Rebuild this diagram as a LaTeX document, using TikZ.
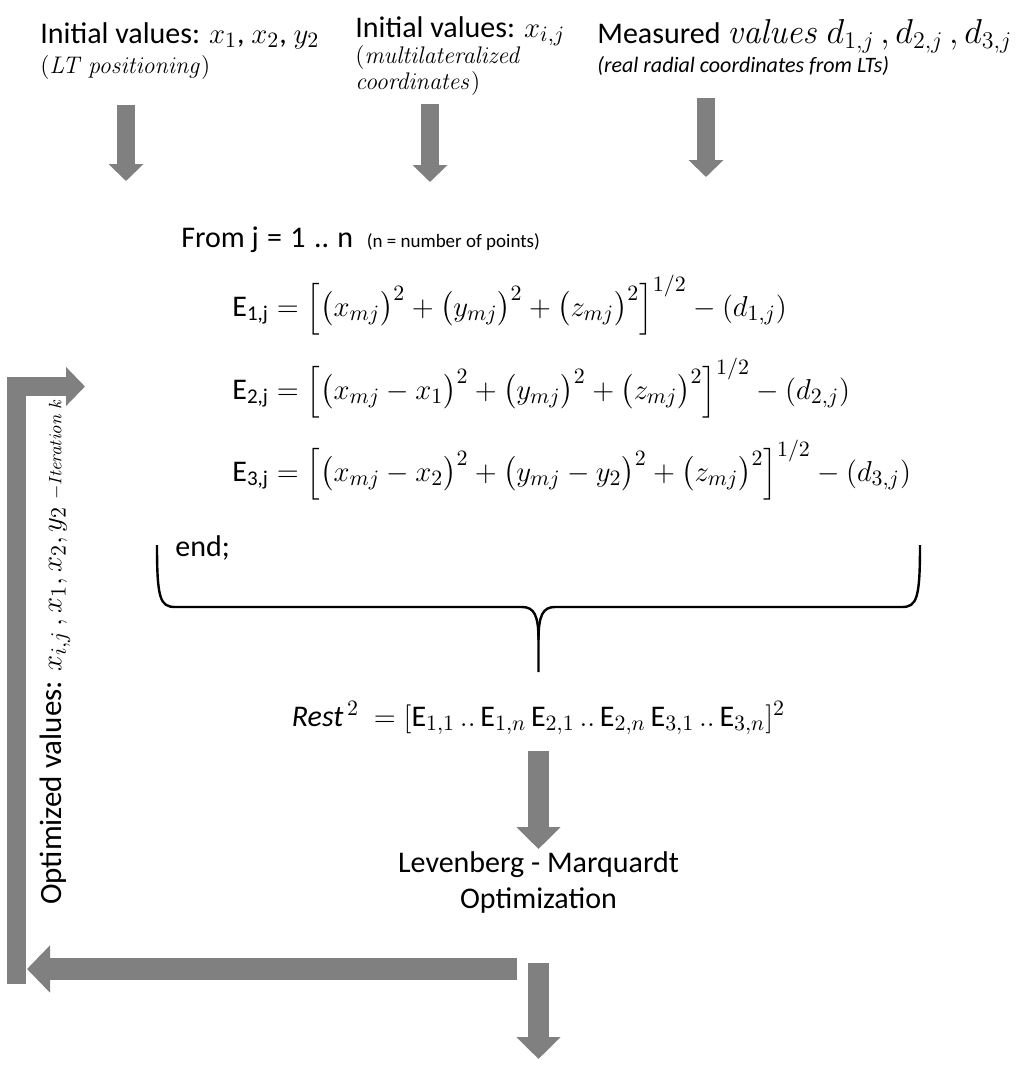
\documentclass[tikz,border=0pt]{standalone}
\usepackage{amsmath}
\usepackage[no-math]{fontspec}
\setmainfont{Carlito}
\usetikzlibrary{arrows.meta}
\tikzset{
  lbl/.style={anchor=west, inner sep=0pt},
  note/.style={lbl, font=\fontsize{12.5}{14}\selectfont},
  blk/.style={draw=gray, line width=9pt, -{Triangle[width=17pt,length=8.5pt]}},
  bigblk/.style={draw=gray, line width=10.5pt, -{Triangle[width=21.5pt,length=11pt]}},
}
\begin{document}
\begin{tikzpicture}[x=0.5pt, y=-0.5pt, font=\fontsize{15}{18}\selectfont]
\useasboundingbox (0,0) rectangle (1024,1072);
% input values
\node[lbl] (init1) at (40,36) {Initial values: $x_1$, $x_2$, $y_2$};
\node[note] (init1note) at (40,67) {$(\mathit{LT\ positioning})$};
\node[lbl] (init2) at (355,31) {Initial values: $x_{i,j}$};
\node[note] (init2note) at (355,57) {$(\mathit{multilateralized}$};
\node[note] (init2note2) at (355,83) {$\mathit{coordinates})$};
\node[lbl] (meas) at (597,36) {Measured {\fontsize{16.5}{18}\selectfont$\mathit{values}\ d_{1,j}\,, d_{2,j}\,, d_{3,j}$}};
\node[lbl, font=\fontsize{11}{13}\selectfont\itshape] (measnote) at (597,66) {(real radial coordinates from LTs)};
\coordinate (a1s) at (126,105); \coordinate (a1e) at (126,181);
\coordinate (a2s) at (430,104); \coordinate (a2e) at (430,182);
\coordinate (a3s) at (706,98);  \coordinate (a3e) at (706,177);
\foreach \s/\e in {a1s/a1e, a2s/a2e, a3s/a3e}
  \draw[blk] (\s) -- (\e);
% loop over points
\node[lbl] (fromj) at (181,240) {From j\;=\;1\;..\;n\ \ {\fontsize{9.5}{11}\selectfont(n = number of points)}};
\begin{scope}[every node/.append style={font=\fontsize{15}{18}\selectfont}]
\node[lbl] (eq1) at (232,305) {$\text{E}_{\text{1,j}} = \Bigl[\bigl(x_{mj}\bigr)^2 + \bigl(y_{mj}\bigr)^2 + \bigl(z_{mj}\bigr)^2\Bigr]^{1/2} -(d_{1,j})$};
\node[lbl] (eq2) at (232,388) {$\text{E}_{\text{2,j}} = \Bigl[\bigl(x_{mj}-x_1\bigr)^2 + \bigl(y_{mj}\bigr)^2 + \bigl(z_{mj}\bigr)^2\Bigr]^{1/2} -(d_{2,j})$};
\node[lbl] (eq3) at (232,470) {$\text{E}_{\text{3,j}} = \Bigl[\bigl(x_{mj}-x_2\bigr)^2 + \bigl(y_{mj}-y_2\bigr)^2 + \bigl(z_{mj}\bigr)^2\Bigr]^{1/2} -(d_{3,j})$};
\end{scope}
\node[lbl] (endtxt) at (175,548) {end;};
% brace
\coordinate (brtip) at (538.5,672);
\draw[line width=1.2pt] (157,545) .. controls (157,598) and (160,607) .. (175,607) -- (522,607)
  .. controls (534,607) and (538.5,615) .. (538.5,640) -- (brtip);
\draw[line width=1.2pt] (920,545) .. controls (920,598) and (917,607) .. (902,607) -- (555,607)
  .. controls (543,607) and (538.5,615) .. (538.5,640);
\node[inner sep=0pt] (rest) at (538.5,718) {\textit{Rest}$^{\,2}\ = [\text{E}_{1,1}\,..\,\text{E}_{1,n}\,\text{E}_{2,1}\,..\,\text{E}_{2,n}\,\text{E}_{3,1}\,..\,\text{E}_{3,n}]^2$};
\coordinate (a4s) at (538.5,751); \coordinate (a4e) at (538.5,849);
\draw[bigblk] (a4s) -- (a4e);
\node[align=center, inner sep=0pt] (lm) at (538.5,882) {Levenberg - Marquardt\\Optimization};
% output and feedback
\coordinate (a5s) at (538.5,963); \coordinate (a5e) at (538.5,1059);
\draw[bigblk] (a5s) -- (a5e);
\coordinate (backs) at (517,969); \coordinate (backe) at (27,969);
\draw[draw=gray, line width=11pt, -{Triangle[width=23pt,length=11.5pt]}] (backs) -- (backe);
\coordinate (ups) at (16.5,984); \coordinate (upc) at (16.5,386.5); \coordinate (upe) at (85,386.5);
\draw[draw=gray, line width=9.5pt, -{Triangle[width=19pt,length=9.5pt]}] (ups) -- (upc) -- (upe);
\node[rotate=90, inner sep=0pt, font=\fontsize{15.5}{18}\selectfont] (optval) at (55,652) {Optimized values: $x_{i,j}\,, x_1, x_2, y_2$ {\fontsize{9.5}{11}\selectfont$-\mathit{Iteration\ k}$}};
\end{tikzpicture}
\end{document}
